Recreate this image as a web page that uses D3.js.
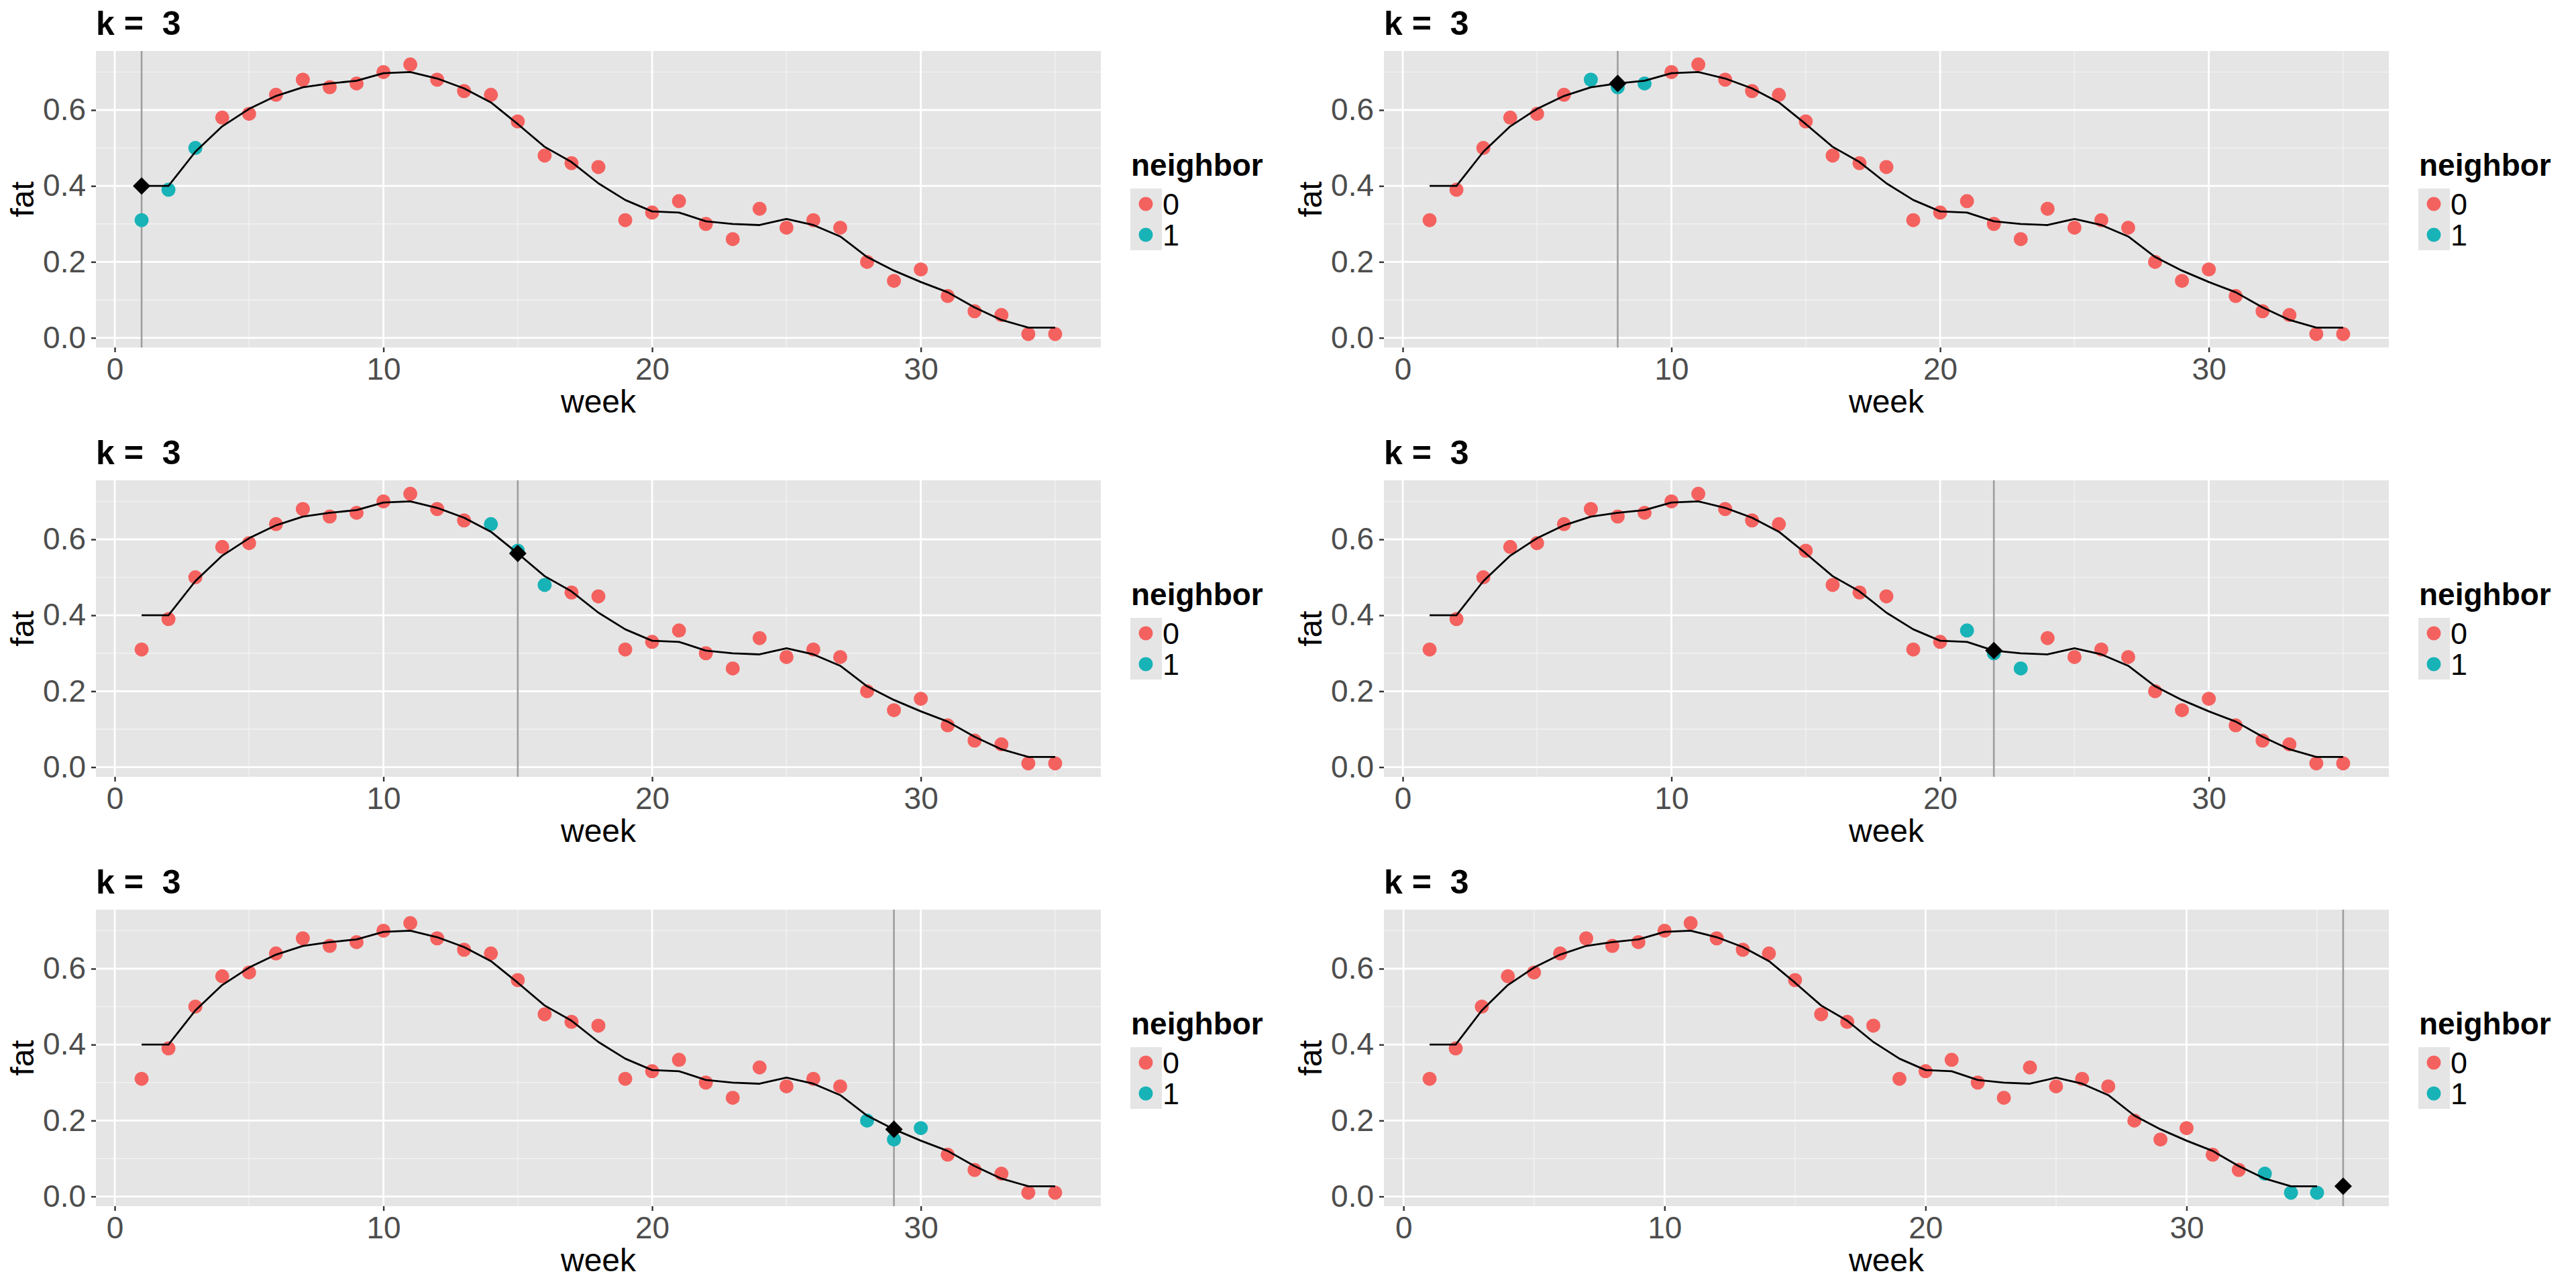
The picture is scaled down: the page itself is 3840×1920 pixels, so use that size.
<!DOCTYPE html>
<html>
<head>
<meta charset="utf-8">
<script src="https://cdn.jsdelivr.net/npm/d3@7"></script>
<style>
  body { margin: 0; background: #fff; }
  svg { display: block; font-family: "Liberation Sans", Arial, sans-serif; }
</style>
</head>
<body>
<div id="chart"></div>
<script>
// weekly observations
var weeks = [1, 2, 3, 4, 5, 6, 7, 8, 9, 10, 11, 12, 13, 14, 15, 16, 17, 18,
  19, 20, 21, 22, 23, 24, 25, 26, 27, 28, 29, 30, 31, 32, 33, 34, 35];
var fat = [0.31, 0.39, 0.50, 0.58, 0.59, 0.64, 0.68, 0.66, 0.67, 0.70, 0.72, 0.68,
  0.65, 0.64, 0.57, 0.48, 0.46, 0.45, 0.31, 0.33, 0.36, 0.30, 0.26, 0.34, 0.29,
  0.31, 0.29, 0.20, 0.15, 0.18, 0.11, 0.07, 0.06, 0.01, 0.01];
// fitted curve (k = 3)
var fitted = [0.400, 0.400, 0.490, 0.557, 0.603, 0.637, 0.660, 0.670, 0.677, 0.697,
  0.700, 0.683, 0.657, 0.620, 0.563, 0.503, 0.463, 0.407, 0.363, 0.333, 0.330,
  0.307, 0.300, 0.297, 0.313, 0.297, 0.267, 0.213, 0.177, 0.147, 0.120, 0.080,
  0.047, 0.027, 0.027];
// one panel per query week
var queryWeek = [1, 8, 15, 22, 29, 36];
var queryFit = [0.400, 0.670, 0.563, 0.307, 0.177, 0.027];
var neighbors = [[1, 2, 3], [7, 8, 9], [14, 15, 16], [21, 22, 23], [28, 29, 30], [33, 34, 35]];
var kValue = 3;
var xTicks = [0, 10, 20, 30];
var yTicks = [0.0, 0.2, 0.4, 0.6];
var legendLabels = ["0", "1"];

var width = 3840;
var height = 1920;
var colors = ["#F4625F", "#17B3B7"];

var panelW = 1498, panelH = 442;
var panelX = 143, panelY = 76;

var svg = d3.select("#chart").append("svg")
  .attr("width", width).attr("height", height);

svg.append("rect").attr("width", width).attr("height", height).attr("fill", "#fff");

function expand(ext) {
  var pad = (ext[1] - ext[0]) * 0.05;
  return [ext[0] - pad, ext[1] + pad];
}

function drawPanel(i) {
  var ox = (i % 2) * 1920;
  var oy = Math.floor(i / 2) * 640;
  var g = svg.append("g").attr("transform", "translate(" + ox + "," + oy + ")");

  var xExt = d3.extent(weeks.concat([queryWeek[i]]));
  var yExt = d3.extent(fat.concat(fitted, [queryFit[i]]));
  var x = d3.scaleLinear().domain(expand(xExt)).range([panelX, panelX + panelW]);
  var y = d3.scaleLinear().domain(expand(yExt)).range([panelY + panelH, panelY]);

  g.append("text")
    .attr("x", panelX).attr("y", 52)
    .attr("font-size", 50).attr("font-weight", "bold")
    .attr("fill", "#000")
    .attr("xml:space", "preserve")
    .text("k =  " + kValue);

  g.append("rect")
    .attr("x", panelX).attr("y", panelY)
    .attr("width", panelW).attr("height", panelH)
    .attr("fill", "#E5E5E5");

  var grid = g.append("g");
  var xMinor = [5, 15, 25, 35].filter(function (d) { return d > x.domain()[0] && d < x.domain()[1]; });
  var yMinor = [0.1, 0.3, 0.5, 0.7].filter(function (d) { return d > y.domain()[0] && d < y.domain()[1]; });

  grid.selectAll(".ymin").data(yMinor).enter().append("line")
    .attr("x1", panelX).attr("x2", panelX + panelW)
    .attr("y1", y).attr("y2", y)
    .attr("stroke", "#F2F2F2").attr("stroke-width", 1.4);
  grid.selectAll(".xmin").data(xMinor).enter().append("line")
    .attr("y1", panelY).attr("y2", panelY + panelH)
    .attr("x1", x).attr("x2", x)
    .attr("stroke", "#F2F2F2").attr("stroke-width", 1.4);
  grid.selectAll(".ymaj").data(yTicks).enter().append("line")
    .attr("x1", panelX).attr("x2", panelX + panelW)
    .attr("y1", y).attr("y2", y)
    .attr("stroke", "#fff").attr("stroke-width", 2.8);
  grid.selectAll(".xmaj").data(xTicks).enter().append("line")
    .attr("y1", panelY).attr("y2", panelY + panelH)
    .attr("x1", x).attr("x2", x)
    .attr("stroke", "#fff").attr("stroke-width", 2.8);

  // query week marker
  g.append("line")
    .attr("x1", x(queryWeek[i])).attr("x2", x(queryWeek[i]))
    .attr("y1", panelY).attr("y2", panelY + panelH)
    .attr("stroke", "#9E9E9E").attr("stroke-width", 2.6);

  var pts = weeks.map(function (w, j) {
    return { week: w, fat: fat[j], nb: neighbors[i].indexOf(w) >= 0 ? 1 : 0 };
  });
  g.selectAll(".pt").data(pts).enter().append("circle")
    .attr("cx", function (d) { return x(d.week); })
    .attr("cy", function (d) { return y(d.fat); })
    .attr("r", 10.5)
    .attr("fill", function (d) { return colors[d.nb]; });

  var line = d3.line()
    .x(function (d, j) { return x(weeks[j]); })
    .y(function (d) { return y(d); });
  g.append("path").datum(fitted)
    .attr("d", line)
    .attr("fill", "none").attr("stroke", "#000").attr("stroke-width", 2.8)
    .attr("stroke-linejoin", "round");

  g.append("path")
    .attr("d", d3.symbol().type(d3.symbolSquare).size(340)())
    .attr("transform", "translate(" + x(queryWeek[i]) + "," + y(queryFit[i]) + ") rotate(45)")
    .attr("fill", "#000");

  // axes
  var xAxis = g.append("g")
    .attr("transform", "translate(0," + (panelY + panelH) + ")")
    .call(d3.axisBottom(x).tickValues(xTicks).tickFormat(d3.format("d")).tickSize(7).tickPadding(8));
  var yAxis = g.append("g")
    .attr("transform", "translate(" + panelX + ",0)")
    .call(d3.axisLeft(y).tickValues(yTicks).tickFormat(d3.format(".1f")).tickSize(7).tickPadding(8));
  [xAxis, yAxis].forEach(function (a) {
    a.select(".domain").remove();
    a.selectAll(".tick line").attr("stroke", "#333333").attr("stroke-width", 2.4);
    a.selectAll(".tick text").attr("fill", "#4D4D4D").attr("font-size", 46)
      .attr("font-family", "Liberation Sans, Arial, sans-serif");
  });

  g.append("text")
    .attr("x", panelX + panelW / 2).attr("y", 615)
    .attr("text-anchor", "middle").attr("font-size", 48).attr("fill", "#000")
    .text("week");
  g.append("text")
    .attr("transform", "translate(50," + (panelY + panelH / 2) + ") rotate(-90)")
    .attr("text-anchor", "middle").attr("font-size", 48).attr("fill", "#000")
    .text("fat");

  // legend
  var lg = g.append("g");
  lg.append("text")
    .attr("x", 1686).attr("y", 262)
    .attr("font-size", 46).attr("font-weight", "bold").attr("fill", "#000")
    .text("neighbor");
  lg.append("rect")
    .attr("x", 1685).attr("y", 281).attr("width", 47).attr("height", 92)
    .attr("fill", "#E5E5E5");
  lg.selectAll(".key").data(legendLabels).enter().append("circle")
    .attr("cx", 1708).attr("cy", function (d, j) { return 304 + j * 46; })
    .attr("r", 10.5).attr("fill", function (d, j) { return colors[j]; });
  lg.selectAll(".lab").data(legendLabels).enter().append("text")
    .attr("x", 1733).attr("y", function (d, j) { return 320 + j * 46; })
    .attr("font-size", 45).attr("fill", "#000")
    .text(function (d) { return d; });
}

for (var i = 0; i < queryWeek.length; i++) drawPanel(i);
</script>
</body>
</html>
